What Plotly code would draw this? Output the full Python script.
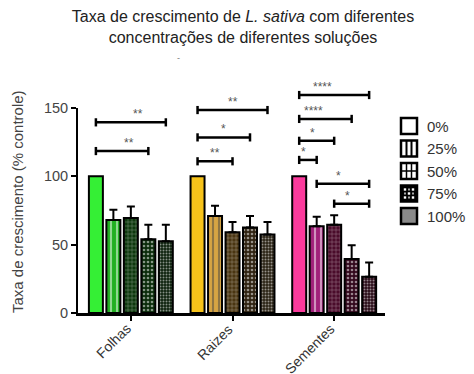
import plotly.graph_objects as go

categories = ["Folhas", "Raizes", "Sementes"]
concentrations = ["0%", "25%", "50%", "75%", "100%"]

m0 = [100, 100, 100]
m25 = [68, 71, 63.5]
m50 = [69.5, 59, 64.5]
m75 = [54, 62.5, 39.5]
m100 = [52.5, 57.5, 26.5]
means = [m0, m25, m50, m75, m100]

e25 = [7.5, 7.5, 7]
e50 = [8.5, 7.5, 7]
e75 = [10.5, 8.5, 10]
e100 = [12, 9, 10.5]
errors = [None, e25, e50, e75, e100]

# significance brackets: (category index, from bar, to bar, y, label)
brackets = [
    (0, 0, 4, 139.5, "**"), (0, 0, 3, 118.5, "**"),
    (1, 0, 4, 148.5, "**"), (1, 0, 3, 128.5, "*"), (1, 0, 2, 111, "**"),
    (2, 0, 4, 159.5, "****"), (2, 0, 3, 142, "****"), (2, 0, 2, 126, "*"),
    (2, 0, 1, 112, "*"), (2, 1, 4, 94.5, "*"), (2, 2, 4, 80, "*"),
]

XR = [-0.52, 2.5]
YR = [0, 150]

# styles
bg = [
    ["#35ef35", "#f7c31a", "#fb3a9c"],
    ["#22b022", "#d6a443", "#a1207a"],
    ["#0c380c", "#4a3511", "#4a0b2a"],
    ["#0a2c0a", "#2f2210", "#32081c"],
    ["#0e220e", "#2b2315", "#2a0b18"],
]
fg = [
    None,
    ["#0b3b0b", "#3a2a0a", "#3a0628"],
    ["#2ea82e", "#b08d45", "#b32a6c"],
    ["#2e8e2e", "#98783e", "#9c2060"],
    ["#1c401c", "#3e3420", "#3e1426"],
]
shapes_p = [None, "|", "+", ".", "."]
sizes_p = [None, 6, 4, 4, 3]
solid_p = [None, 0.35, 0.2, 0.35, 0.35]

BARGAP = 0.14
FONT = "Liberation Sans, Arial, sans-serif"

fig = go.Figure()
for i, c in enumerate(concentrations):
    marker = dict(color=bg[i], line=dict(color="black", width=2))
    if shapes_p[i]:
        marker["pattern"] = dict(shape=shapes_p[i], bgcolor=bg[i], fgcolor=fg[i],
                                 size=sizes_p[i], solidity=solid_p[i], fillmode="overlay")
    kw = {}
    if errors[i] is not None:
        kw["error_y"] = dict(type="data", array=errors[i], arrayminus=[0, 0, 0],
                             symmetric=False, color="black", thickness=2, width=4)
    fig.add_trace(go.Bar(x=categories, y=means[i], name=c, marker=marker,
                         showlegend=False, **kw))

slot = (1 - BARGAP) / len(concentrations)
def bar_x(cat, b):
    return cat + (b - 2) * slot

# data -> paper conversion (so marks outside the y range are not clipped)
def dx(v):
    return (v - XR[0]) / (XR[1] - XR[0])
def dy(v):
    return (v - YR[0]) / (YR[1] - YR[0])

shapes = []
annotations = []
for cat, a, b, y, lab in brackets:
    x0, x1 = dx(bar_x(cat, a)), dx(bar_x(cat, b))
    ln = dict(color="black", width=2.5)
    shapes.append(dict(type="line", xref="paper", yref="paper", x0=x0, x1=x1, y0=dy(y), y1=dy(y), line=ln))
    shapes.append(dict(type="line", xref="paper", yref="paper", x0=x0, x1=x0, y0=dy(y - 3), y1=dy(y + 3), line=ln))
    shapes.append(dict(type="line", xref="paper", yref="paper", x0=x1, x1=x1, y0=dy(y - 3), y1=dy(y + 3), line=ln))
    annotations.append(dict(x=(x0 + x1) / 2, y=dy(y), xref="paper", yref="paper", text=lab,
                            showarrow=False, yanchor="bottom", yshift=-1,
                            font=dict(size=12, color="#555", family=FONT)))

# rotated category labels
for ci, cat in enumerate(categories):
    annotations.append(dict(x=dx(ci), y=0, xref="paper", yref="paper", text=cat,
                            textangle=-45, showarrow=False, xanchor="right", yanchor="top",
                            xshift=6, yshift=-5,
                            font=dict(size=14, color="#333", family=FONT)))

# manual legend (pixel helpers)
PL, PR, PT, PB = 78, 385, 108, 313
def px(v):
    return (v - PL) / (PR - PL)
def py(v):
    return (PB - v) / (PB - PT)

leg_y0 = 126
leg_dy = 22.5
for i, c in enumerate(concentrations):
    cy = leg_y0 + i * leg_dy
    l, r, t, b = 401, 417, cy - 8, cy + 8
    fill = ["white", "white", "white", "black", "#8a8a8a"][i]
    shapes.append(dict(type="rect", xref="paper", yref="paper", x0=px(l), x1=px(r),
                       y0=py(b), y1=py(t), fillcolor=fill, line=dict(color="black", width=2.5)))
    inner = dict(color="black", width=2)
    if i == 1:
        for xx in (406.5, 411.5):
            shapes.append(dict(type="line", xref="paper", yref="paper", x0=px(xx), x1=px(xx),
                               y0=py(b), y1=py(t), line=inner))
    if i == 2:
        for xx in (406.5, 411.5):
            shapes.append(dict(type="line", xref="paper", yref="paper", x0=px(xx), x1=px(xx),
                               y0=py(b), y1=py(t), line=dict(color="black", width=1.5)))
        shapes.append(dict(type="line", xref="paper", yref="paper", x0=px(l), x1=px(r),
                           y0=py(cy), y1=py(cy), line=dict(color="black", width=1.5)))
    if i == 3:
        for ddx in (-4, 0, 4):
            for ddy in (-4, 0, 4):
                if (ddx + ddy) % 8 == 0:
                    shapes.append(dict(type="rect", xref="paper", yref="paper",
                                       x0=px(409 + ddx - 1.2), x1=px(409 + ddx + 1.2),
                                       y0=py(cy + ddy + 1.2), y1=py(cy + ddy - 1.2),
                                       fillcolor="white", line=dict(width=0)))
                else:
                    shapes.append(dict(type="rect", xref="paper", yref="paper",
                                       x0=px(409 + ddx - 0.9), x1=px(409 + ddx + 0.9),
                                       y0=py(cy + ddy + 0.9), y1=py(cy + ddy - 0.9),
                                       fillcolor="#bbbbbb", line=dict(width=0)))
    annotations.append(dict(x=px(425), y=py(cy), xref="paper", yref="paper", text=c,
                            showarrow=False, xanchor="left", yanchor="middle",
                            font=dict(size=15, color="#333", family=FONT)))

# y-axis title
annotations.append(dict(x=px(17), y=py(202), xref="paper", yref="paper",
                        text="Taxa de crescimento (% controle)", textangle=-90,
                        showarrow=False, xanchor="center", yanchor="middle",
                        font=dict(size=15, color="#444", family=FONT)))
# stray mark below title
annotations.append(dict(x=px(175), y=py(51), xref="paper", yref="paper", text="-",
                        showarrow=False, font=dict(size=9, color="#777", family=FONT)))

fig.update_layout(
    width=474, height=374,
    margin=dict(l=PL, r=474 - PR, t=PT, b=374 - PB, autoexpand=False),
    paper_bgcolor="white", plot_bgcolor="white",
    barmode="group", bargap=BARGAP, bargroupgap=0.2,
    title=dict(text="Taxa de crescimento de <i>L. sativa</i> com diferentes<br>concentrações de diferentes soluções",
               x=243 / 474, xanchor="center", xref="container",
               y=1 - 22 / 374, yanchor="top", yref="container",
               font=dict(size=16, color="#222", family=FONT)),
    font=dict(family=FONT),
    shapes=shapes, annotations=annotations,
    showlegend=False,
)
fig.update_xaxes(range=XR, showline=True, linecolor="black", linewidth=2.5,
                 ticks="outside", ticklen=5, tickwidth=2, tickcolor="black",
                 showticklabels=False, showgrid=False, zeroline=False, automargin=False)
fig.update_yaxes(range=YR, tickvals=[0, 50, 100, 150], showline=True,
                 linecolor="black", linewidth=2, ticks="outside", ticklen=5,
                 tickwidth=2, tickcolor="black", showgrid=False, zeroline=False,
                 automargin=False,
                 tickfont=dict(size=14.5, color="#444", family=FONT))

fig.write_html("out.html", config={"displayModeBar": False},
               post_script="document.body.style.margin='0';document.body.style.overflow='hidden';")
